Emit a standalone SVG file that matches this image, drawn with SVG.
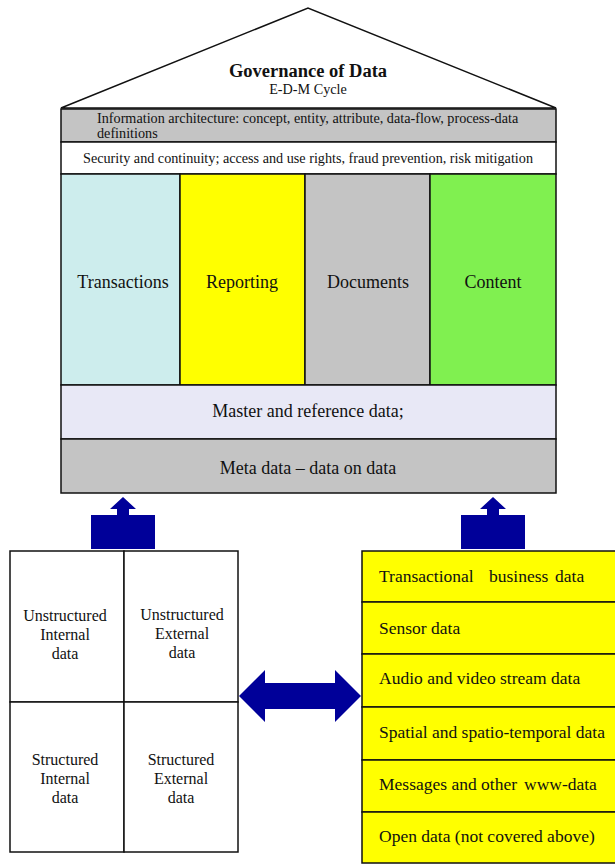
<svg xmlns="http://www.w3.org/2000/svg" width="615" height="865" viewBox="0 0 615 865" font-family="Liberation Serif, Times New Roman, serif">
<style>
text{fill:#111}
.b{stroke:#111;stroke-width:1.5}
.t18{font-size:18px}
.t17{font-size:17.5px}
.t16{font-size:16px}
.t14{font-size:14.2px}
.c{text-anchor:middle}
.arr{fill:#000099}
</style>
<rect width="615" height="865" fill="#fff"/>
<g id="roof">
<polygon points="61,108 308,8 556,108" fill="#fff" class="b"/>
<text x="308" y="77" class="c" font-size="18.5px" font-weight="bold">Governance of Data</text>
<text x="308" y="94" class="c t14">E-D-M Cycle</text>
</g>
<g id="info-arch">
<rect x="61" y="109" width="495" height="33" fill="#C4C4C4" class="b"/>
<text x="97" y="123" class="t14">Information architecture: concept, entity, attribute, data-flow, process-data</text>
<text x="97" y="138" class="t14">definitions</text>
</g>
<g id="security">
<rect x="61" y="142" width="495" height="32" fill="#fff" class="b"/>
<text x="308" y="163" class="c t14">Security and continuity; access and use rights, fraud prevention, risk mitigation</text>
</g>
<g id="transactions">
<rect x="61" y="174" width="119" height="211" fill="#CDEDED" class="b"/>
<text x="123" y="288" class="c t18">Transactions</text>
</g>
<g id="reporting">
<rect x="180" y="174" width="125" height="211" fill="#FFFF00" class="b"/>
<text x="242" y="288" class="c t18">Reporting</text>
</g>
<g id="documents">
<rect x="305" y="174" width="125" height="211" fill="#C4C4C4" class="b"/>
<text x="368" y="288" class="c t18">Documents</text>
</g>
<g id="content">
<rect x="430" y="174" width="126" height="211" fill="#80F050" class="b"/>
<text x="493" y="288" class="c t18">Content</text>
</g>
<g id="master">
<rect x="61" y="385" width="495" height="54" fill="#E8E8F6" class="b"/>
<text x="308" y="417" class="c t18">Master and reference data;</text>
</g>
<g id="meta">
<rect x="61" y="439" width="495" height="54" fill="#C4C4C4" class="b"/>
<text x="308" y="474" class="c t18">Meta data – data on data</text>
</g>
<g id="connectors">
<path class="arr" d="M91,549 V515 H117 V509 H110 L123,497 L136,509 H129 V515 H155 V549 Z"/>
<path class="arr" d="M461,549 V515 H487 V509 H480 L493,497 L506,509 H499 V515 H525 V549 Z"/>
<path class="arr" d="M239,696 L265,670 V683 H335 V670 L361,696 L335,722 V709 H265 V722 Z"/>
</g>
<g id="unstructured-internal">
<rect x="10" y="551" width="114" height="151" fill="#fff" class="b"/>
<text class="c t16" x="65" y="621">Unstructured</text>
<text class="c t16" x="65" y="640">Internal</text>
<text class="c t16" x="65" y="659">data</text>
</g>
<g id="unstructured-external">
<rect x="124" y="551" width="114" height="151" fill="#fff" class="b"/>
<text class="c t16" x="182" y="620">Unstructured</text>
<text class="c t16" x="182" y="639">External</text>
<text class="c t16" x="182" y="658">data</text>
</g>
<g id="structured-internal">
<rect x="10" y="702" width="114" height="150" fill="#fff" class="b"/>
<text class="c t16" x="65" y="765">Structured</text>
<text class="c t16" x="65" y="784">Internal</text>
<text class="c t16" x="65" y="803">data</text>
</g>
<g id="structured-external">
<rect x="124" y="702" width="114" height="150" fill="#fff" class="b"/>
<text class="c t16" x="181" y="765">Structured</text>
<text class="c t16" x="181" y="784">External</text>
<text class="c t16" x="181" y="803">data</text>
</g>
<g id="transactional-business">
<rect x="362" y="551" width="260" height="51" fill="#FFFF00" class="b"/>
<text class="t17" y="582"><tspan x="379">Transactional</tspan><tspan x="489">business</tspan><tspan x="555">data</tspan></text>
</g>
<g id="sensor">
<rect x="362" y="602" width="260" height="52" fill="#FFFF00" class="b"/>
<text class="t17" x="379" y="634">Sensor data</text>
</g>
<g id="audio-video">
<rect x="362" y="654" width="260" height="53" fill="#FFFF00" class="b"/>
<text class="t17" x="379" y="684">Audio and video stream data</text>
</g>
<g id="spatial">
<rect x="362" y="707" width="260" height="53" fill="#FFFF00" class="b"/>
<text class="t17" x="379" y="738">Spatial and spatio-temporal data</text>
</g>
<g id="messages">
<rect x="362" y="760" width="260" height="52" fill="#FFFF00" class="b"/>
<text class="t17" y="790"><tspan x="379">Messages and other</tspan><tspan x="524">www-data</tspan></text>
</g>
<g id="open-data">
<rect x="362" y="812" width="260" height="51" fill="#FFFF00" class="b"/>
<text class="t17" x="379" y="842">Open data (not covered above)</text>
</g>
</svg>
